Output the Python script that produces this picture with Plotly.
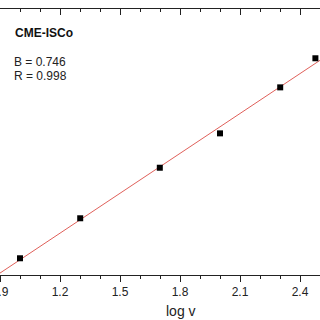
import numpy as np
import plotly.graph_objects as go

# data
log_v = [1.0, 1.301, 1.699, 2.0, 2.301, 2.477]
log_i = [-4.908, -4.688, -4.410, -4.221, -3.968, -3.808]
label_title = "CME-ISCo"
label_B = "B = 0.746"
label_R = "R = 0.998"
x_title = "log v"

x_range = [0.8999, 2.5]
y_range = [-5.0, -3.537]

slope, intercept = np.polyfit(log_v, log_i, 1)
fit_x = np.array([0.85, 2.6])
fit_y = slope * fit_x + intercept

fig = go.Figure()
fig.add_trace(go.Scatter(x=fit_x, y=fit_y, mode="lines",
                         line=dict(color="#e0605a", width=1), showlegend=False))
fig.add_trace(go.Scatter(x=log_v, y=log_i, mode="markers",
                         marker=dict(symbol="square", size=6, color="#000000"),
                         showlegend=False))
# invisible trace on top axis
fig.add_trace(go.Scatter(x=log_v, y=log_i, xaxis="x2", mode="markers",
                         marker=dict(opacity=0), showlegend=False, hoverinfo="skip"))

axis_common = dict(range=x_range, tick0=0.9, dtick=0.3, showgrid=False, zeroline=False,
                   showline=True, linecolor="#222222", linewidth=1, tickcolor="#222222",
                   ticklen=6, tickwidth=1)
fig.update_layout(
    width=320, height=320,
    margin=dict(l=0, r=0, t=9, b=45),
    paper_bgcolor="white", plot_bgcolor="white",
    font=dict(family="Liberation Sans, Arial", color="#222222", size=12),
    xaxis=dict(**axis_common, ticks="outside", side="bottom", automargin=False,
               ticklabeloverflow="allow",
               tickfont=dict(size=12, color="#222222"),
               minor=dict(dtick=0.1, ticks="outside", ticklen=3, tickcolor="#222222")),
    xaxis2=dict(**axis_common, ticks="inside", side="top", overlaying="x",
                showticklabels=False, automargin=False,
                minor=dict(dtick=0.1, ticks="inside", ticklen=3, tickcolor="#222222")),
    yaxis=dict(range=y_range, showgrid=False, zeroline=False, showticklabels=False,
               showline=False, ticks="", automargin=False),
    annotations=[
        dict(text="<b>" + label_title + "</b>", xref="paper", yref="paper",
             x=13 / 320, y=(275 - 33) / 266, xanchor="left", yanchor="middle",
             showarrow=False, font=dict(size=12, color="#111111")),
        dict(text=label_B, xref="paper", yref="paper",
             x=12 / 320, y=(275 - 62) / 266, xanchor="left", yanchor="middle",
             showarrow=False, font=dict(size=12, color="#222222")),
        dict(text=label_R, xref="paper", yref="paper",
             x=12 / 320, y=(275 - 76) / 266, xanchor="left", yanchor="middle",
             showarrow=False, font=dict(size=12, color="#222222")),
        dict(text=x_title, xref="paper", yref="paper",
             x=181 / 320, y=-(311 - 275) / 266, xanchor="center", yanchor="middle",
             showarrow=False, font=dict(size=14, color="#222222")),
    ],
)
fig.write_html("out.html", config={"displayModeBar": False},
               post_script="document.body.style.margin='0';")
